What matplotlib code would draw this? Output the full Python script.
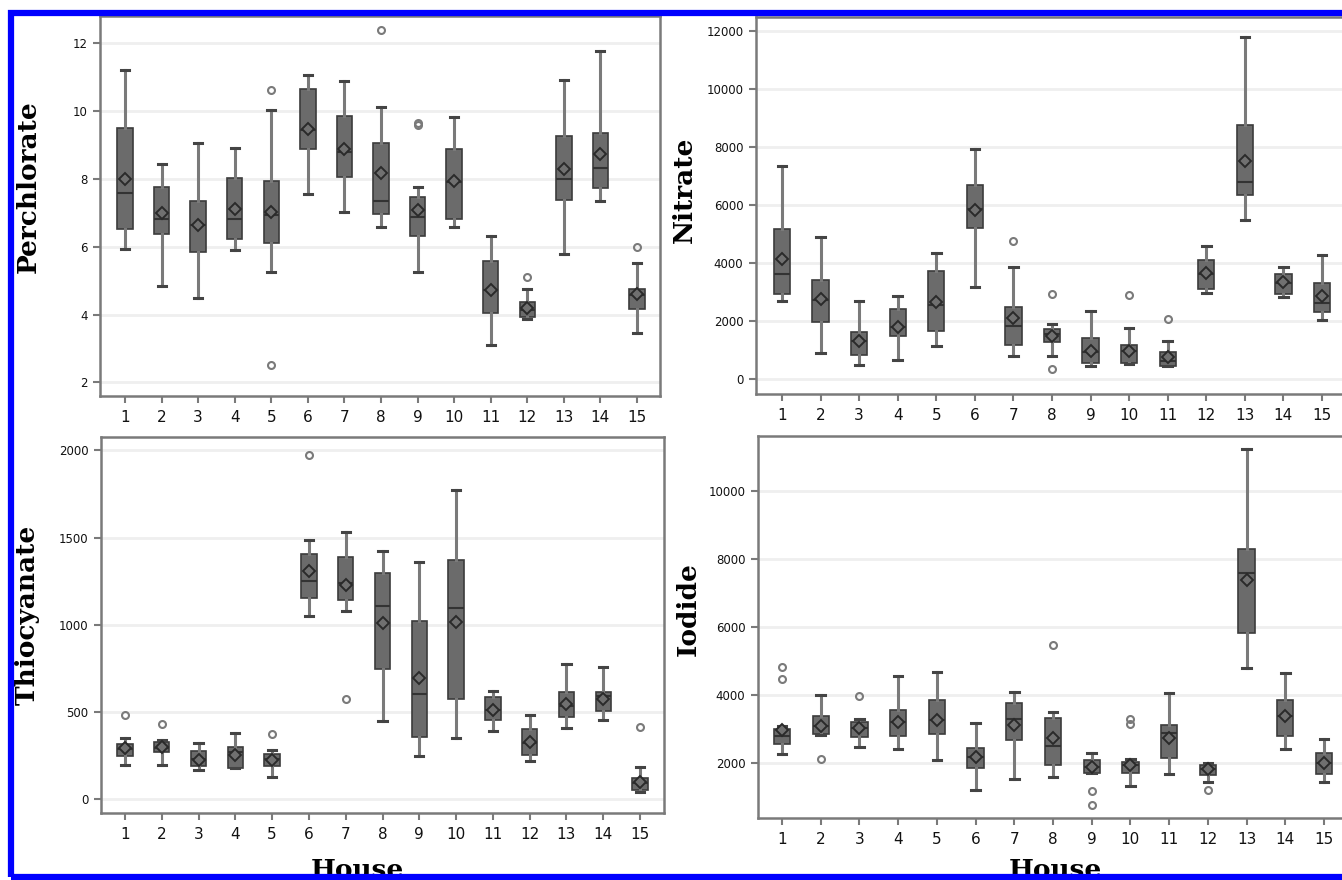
import matplotlib
matplotlib.use("Agg")
import matplotlib.pyplot as plt
from matplotlib.patches import Rectangle

houses = list(range(1, 16))

# Perchlorate: lower whisker, Q1, median, Q3, upper whisker, mean, outliers
perc_lo = [5.93, 4.84, 4.50, 5.90, 5.25, 7.54, 7.03, 6.57, 5.24, 6.57, 3.11, 3.86, 5.78, 7.34, 3.45]
perc_q1 = [6.51, 6.36, 5.83, 6.23, 6.12, 8.89, 8.04, 6.95, 6.31, 6.83, 4.04, 3.94, 7.39, 7.74, 4.16]
perc_med = [7.57, 6.83, 6.64, 6.81, 6.93, 9.43, 8.79, 7.34, 6.88, 7.91, 4.73, 4.14, 8.01, 8.32, 4.58]
perc_q3 = [9.50, 7.76, 7.34, 8.03, 7.93, 10.64, 9.84, 9.07, 7.47, 8.89, 5.58, 4.36, 9.26, 9.36, 4.75]
perc_hi = [11.20, 8.45, 9.06, 8.91, 10.02, 11.05, 10.87, 10.12, 7.75, 9.82, 6.32, 4.75, 10.92, 11.78, 5.51]
perc_mean = [7.99, 6.98, 6.64, 7.10, 7.02, 9.48, 8.87, 8.18, 7.08, 7.94, 4.73, 4.19, 8.28, 8.72, 4.61]
perc_out = [[], [], [], [], [10.63, 2.52], [], [], [12.40], [9.65, 9.58], [], [], [5.12], [], [], [6.00]]

# Nitrate
nitr_lo = [2680, 900, 480, 670, 1150, 3160, 780, 780, 460, 520, 440, 2960, 5480, 2840, 2030]
nitr_q1 = [2930, 1970, 840, 1470, 1640, 5220, 1180, 1260, 540, 540, 460, 3120, 6340, 2930, 2320]
nitr_med = [3620, 2730, 1300, 1780, 2550, 5880, 1840, 1560, 920, 980, 630, 3620, 6800, 3330, 2640]
nitr_q3 = [5170, 3420, 1610, 2410, 3730, 6690, 2470, 1720, 1410, 1180, 920, 4110, 8760, 3640, 3300]
nitr_hi = [7350, 4910, 2680, 2850, 4340, 7950, 3870, 1890, 2350, 1750, 1300, 4590, 11800, 3870, 4270]
nitr_mean = [4130, 2760, 1300, 1800, 2660, 5830, 2100, 1490, 980, 980, 750, 3650, 7540, 3350, 2850]
nitr_out = [[], [], [], [], [], [], [4770], [2950, 340], [], [2890], [2070], [], [], [], []]

# Thiocyanate
thio_lo = [197, 197, 165, 178, 125, 1051, 1076, 447, 245, 351, 389, 217, 405, 456, 38]
thio_q1 = [249, 268, 188, 180, 188, 1152, 1143, 744, 357, 575, 451, 255, 470, 504, 54]
thio_med = [288, 294, 232, 268, 230, 1252, 1239, 1108, 600, 1095, 510, 322, 533, 591, 92]
thio_q3 = [318, 326, 274, 299, 261, 1406, 1386, 1296, 1022, 1373, 585, 403, 616, 616, 121]
thio_hi = [351, 341, 322, 380, 284, 1488, 1534, 1425, 1358, 1774, 619, 481, 777, 757, 184]
thio_mean = [293, 299, 226, 255, 226, 1310, 1227, 1012, 696, 1018, 510, 326, 548, 575, 96]
thio_out = [[485], [433], [], [], [376], [1975], [575], [], [], [], [], [], [], [], [412]]

# Iodide
iod_lo = [2265, 2840, 2491, 2432, 2098, 1214, 1548, 1607, 1725, 1332, 1676, 1459, 4791, 2432, 1459]
iod_q1 = [2560, 2875, 2776, 2806, 2855, 1872, 2678, 1951, 1725, 1725, 2167, 1656, 5823, 2806, 1676]
iod_med = [2806, 3101, 3052, 3219, 3278, 2197, 3297, 2511, 1902, 1941, 2904, 1823, 7572, 3376, 2000]
iod_q3 = [3022, 3376, 3229, 3563, 3858, 2462, 3759, 3327, 2098, 2039, 3120, 1941, 8280, 3858, 2314]
iod_hi = [3101, 4005, 3297, 4575, 4693, 3199, 4084, 3494, 2295, 2138, 4054, 2000, 11209, 4644, 2708]
iod_mean = [2973, 3101, 3052, 3219, 3278, 2197, 3130, 2757, 1902, 1941, 2757, 1823, 7376, 3376, 2000]
iod_out = [[4821, 4477], [2118], [3966], [], [], [], [], [5479], [1184, 791], [3297, 3170], [], [1214], [], [], []]

perc_ticks = [2, 4, 6, 8, 10, 12]
nitr_ticks = [0, 2000, 4000, 6000, 8000, 10000, 12000]
thio_ticks = [0, 500, 1000, 1500, 2000]
iod_ticks = [2000, 4000, 6000, 8000, 10000]

W, H = 1342, 880


def px_axes(fig, left, top, right, bottom):
    return fig.add_axes([left / W, 1 - bottom / H, (right - left) / W, (bottom - top) / H])


def draw_panel(ax, lo, q1, med, q3, hi, mean, out, ticks, ylim, xlim, hide_right=False):
    stats = []
    for i in range(len(houses)):
        stats.append(dict(whislo=lo[i], q1=q1[i], med=med[i], q3=q3[i],
                          whishi=hi[i], mean=mean[i], fliers=out[i], label=str(houses[i])))
    ax.bxp(stats, positions=houses, widths=0.42, showmeans=True, patch_artist=True,
           capwidths=0.22,
           boxprops=dict(facecolor="#6b6b6b", edgecolor="#3c3c3c", linewidth=1.2),
           medianprops=dict(color="#333333", linewidth=1.5),
           whiskerprops=dict(color="#7a7a7a", linewidth=2.2),
           capprops=dict(color="#444444", linewidth=2.2),
           meanprops=dict(marker="D", markerfacecolor="#707070", markeredgecolor="#2a2a2a",
                          markeredgewidth=1.4, markersize=6),
           flierprops=dict(marker="o", markerfacecolor="none", markeredgecolor="#7a7a7a",
                           markeredgewidth=1.5, markersize=5))
    ax.set_xlim(*xlim)
    ax.set_ylim(*ylim)
    ax.set_yticks(ticks)
    ax.set_yticklabels([str(t) for t in ticks])
    ax.yaxis.grid(True, color="#efefef", linewidth=2)
    ax.set_axisbelow(True)
    for s in ax.spines.values():
        s.set_color("#7a7a7a")
        s.set_linewidth(1.8)
    if hide_right:
        ax.spines["right"].set_visible(False)
    ax.tick_params(axis="x", colors="#7a7a7a", length=5, width=1.5, labelsize=11,
                   labelcolor="#111111", pad=5)
    ax.tick_params(axis="y", colors="#7a7a7a", length=5, width=1.5, labelsize=8.5,
                   labelcolor="#111111", pad=4)


fig = plt.figure(figsize=(W / 100, H / 100), dpi=100)
fig.patch.set_facecolor("white")

ax1 = px_axes(fig, 100, 16, 660, 396)
draw_panel(ax1, perc_lo, perc_q1, perc_med, perc_q3, perc_hi, perc_mean, perc_out,
           perc_ticks, (1.6, 12.8), (0.316, 15.63))

ax2 = px_axes(fig, 756, 17, 1360, 394)
draw_panel(ax2, nitr_lo, nitr_q1, nitr_med, nitr_q3, nitr_hi, nitr_mean, nitr_out,
           nitr_ticks, (-520, 12500), (0.326, 15.985), hide_right=True)

ax3 = px_axes(fig, 101, 437, 664, 813)
draw_panel(ax3, thio_lo, thio_q1, thio_med, thio_q3, thio_hi, thio_mean, thio_out,
           thio_ticks, (-80, 2077), (0.35, 15.65))

ax4 = px_axes(fig, 758, 436, 1360, 818)
draw_panel(ax4, iod_lo, iod_q1, iod_med, iod_q3, iod_hi, iod_mean, iod_out,
           iod_ticks, (400, 11600), (0.38, 15.93), hide_right=True)

lab = dict(family="DejaVu Serif", fontweight="bold", fontsize=19, rotation=90,
           ha="center", va="center")
fig.text(28 / W, 1 - 187 / H, "Perchlorate", **lab)
fig.text(684 / W, 1 - 190 / H, "Nitrate", **lab)
fig.text(27 / W, 1 - 615 / H, "Thiocyanate", **lab)
fig.text(688 / W, 1 - 609 / H, "Iodide", **lab)
hl = dict(family="DejaVu Serif", fontweight="bold", fontsize=19, ha="center", va="top")
fig.text(357 / W, 1 - 858 / H, "House", **hl)
fig.text(1055 / W, 1 - 858 / H, "House", **hl)

# blue frame around the figure
fig.add_artist(Rectangle((11 / W, 1 - 877 / H), 1.2, (877 - 13) / H, transform=fig.transFigure,
                         fill=False, edgecolor="#0000ff", linewidth=4.5, zorder=10))

fig.savefig("out.png", dpi=100)
